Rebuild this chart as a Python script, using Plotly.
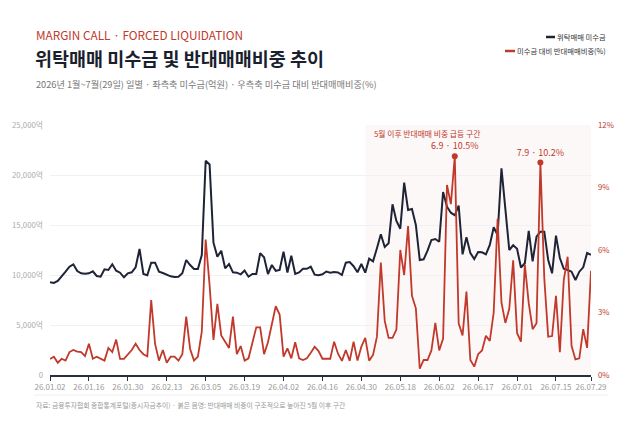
import pandas as pd
import plotly.graph_objects as go

# ---------------- data ----------------
HOLIDAYS = ["2026-01-01", "2026-02-16", "2026-02-17", "2026-02-18", "2026-03-02",
            "2026-05-01", "2026-05-05", "2026-05-25", "2026-06-03", "2026-07-17"]
TRADING_DAYS = pd.bdate_range("2026-01-02", "2026-07-29", freq="C", holidays=HOLIDAYS)
CATEGORIES = [d.strftime("%y.%m.%d") for d in TRADING_DAYS]

# 위탁매매 미수금 (억원)
MARGIN_DEBT = [
    9270, 9200, 9400, 9830, 10330, 10830, 11070, 10400, 10170, 10130,
    10170, 10370, 9900, 9830, 10570, 10500, 11070, 10430, 10230, 9770,
    10170, 10270, 10770, 12600, 10100, 9970, 11230, 11230, 10330, 10200,
    10030, 9870, 9800, 9830, 10170, 11500, 11000, 10600, 10600, 12000,
    21430, 21050, 13230, 11830, 12430, 10670, 11100, 10270, 10230, 10070,
    10450, 9830, 10100, 10100, 12170, 11770, 10100, 11000, 10420, 10500,
    12330, 10250, 11930, 10100, 10250, 10620, 10620, 10830, 10030, 9980,
    10070, 10350, 10230, 10300, 10250, 10000, 11230, 11300, 10880, 10270,
    11100, 10230, 11630, 11370, 12670, 14070, 12800, 13170, 17070, 15400,
    14630, 19230, 16500, 16600, 15000, 11500, 11570, 12430, 13500, 13600,
    13330, 18300, 16830, 16230, 15970, 16930, 12070, 13770, 12200, 11600,
    12300, 12270, 12070, 13000, 14770, 14000, 20670, 16800, 12500, 12970,
    12630, 10750, 11170, 14420, 11370, 13830, 14330, 14330, 11500, 10170,
    13930, 11700, 10620, 10500, 10330, 9500, 10330, 10770, 12200, 12020,
]

# 미수금 대비 반대매매비중 (%)
LIQ_RATIO = [
    0.77, 0.88, 0.59, 0.78, 0.69, 1.10, 1.20, 1.12, 1.10, 0.91,
    1.50, 0.78, 0.88, 0.78, 0.69, 1.30, 1.10, 1.70, 0.77, 0.77,
    0.99, 1.20, 1.50, 1.20, 1.00, 0.90, 3.60, 1.49, 0.69, 1.20,
    0.59, 0.88, 0.88, 0.69, 1.00, 2.80, 1.25, 0.69, 0.88, 2.08,
    6.50, 4.32, 1.68, 3.41, 1.90, 1.60, 1.30, 2.80, 1.00, 1.39,
    0.69, 0.80, 1.60, 2.29, 2.29, 1.00, 1.57, 2.45, 3.30, 2.90,
    0.88, 1.28, 0.80, 1.57, 0.80, 0.72, 0.80, 1.07, 1.36, 1.15,
    0.78, 0.78, 0.78, 1.60, 1.02, 0.68, 1.20, 0.68, 1.60, 0.69,
    1.36, 1.78, 0.69, 0.96, 1.84, 5.40, 2.60, 1.78, 1.78, 2.18,
    6.00, 4.80, 7.15, 3.80, 3.20, 0.30, 0.72, 0.72, 1.18, 2.50,
    1.18, 1.75, 9.12, 8.20, 10.50, 2.48, 1.90, 4.00, 0.72, 0.40,
    1.00, 1.18, 1.88, 1.64, 3.00, 7.50, 3.47, 2.50, 3.18, 5.50,
    2.02, 1.60, 5.30, 3.45, 2.20, 2.49, 10.20, 4.64, 1.84, 1.87,
    3.80, 1.10, 4.56, 5.68, 1.40, 0.75, 0.80, 2.20, 1.30, 5.00,
]

TICK_LABELS = ["26.01.02", "26.01.16", "26.01.30", "26.02.13", "26.03.05",
               "26.03.19", "26.04.02", "26.04.16", "26.04.30", "26.05.18",
               "26.06.02", "26.06.17", "26.07.01", "26.07.15", "26.07.29"]
LEFT_TICKS = [0, 5000, 10000, 15000, 20000, 25000]
LEFT_TICK_TEXT = ["0", "5,000억", "10,000억", "15,000억", "20,000억", "25,000억"]
RIGHT_TICKS = [0, 3, 6, 9, 12]
RIGHT_TICK_TEXT = ["0%", "3%", "6%", "9%", "12%"]
PEAK_DATES = ["26.06.09", "26.07.09"]
SHADE_START = "26.05.04"

# ---------------- styling ----------------
FONT = "Noto Sans CJK KR"
NAVY = "#1e2436"
RED = "#c0392b"

n = len(CATEGORIES)
assert n == len(MARGIN_DEBT) == len(LIQ_RATIO)

peak_vals = [LIQ_RATIO[CATEGORIES.index(d)] for d in PEAK_DATES]
peak_text = [f"{int(d[3:5])}.{int(d[6:8])} · {v}%" for d, v in zip(PEAK_DATES, peak_vals)]
shade_idx = CATEGORIES.index(SHADE_START)

fig = go.Figure()
fig.add_trace(go.Scatter(x=CATEGORIES, y=MARGIN_DEBT, mode="lines", name="위탁매매 미수금",
                         line=dict(color=NAVY, width=2), yaxis="y"))
fig.add_trace(go.Scatter(x=CATEGORIES, y=LIQ_RATIO, mode="lines", name="미수금 대비 반대매매비중(%)",
                         line=dict(color=RED, width=1.8), yaxis="y2"))
fig.add_trace(go.Scatter(x=PEAK_DATES, y=peak_vals, mode="markers+text", text=peak_text,
                         textposition="top center",
                         textfont=dict(family=FONT, size=9, color=RED),
                         marker=dict(color=RED, size=6), yaxis="y2", showlegend=False))

L, R, T, B = 50, 49, 125, 51
W, H = 640, 426
pw, ph = W - L - R, H - T - B


def px(x):
    return (x - L) / pw


def py(y):
    return (H - B - y) / ph


fig.update_layout(
    width=W, height=H,
    margin=dict(l=L, r=R, t=T, b=B, pad=0),
    paper_bgcolor="white", plot_bgcolor="white",
    showlegend=False,
    font=dict(family=FONT, color="#333"),
    xaxis=dict(type="category", range=[0, n - 1], tickmode="array",
               tickvals=TICK_LABELS, ticktext=TICK_LABELS, tickangle=0,
               ticks="outside", ticklen=4, tickwidth=1, tickcolor="#2a2f3d",
               showline=True, linecolor="#2a2f3d", linewidth=1.5,
               showgrid=False, zeroline=False,
               tickfont=dict(family=FONT, size=8, color="#9a9a9a")),
    yaxis=dict(range=[0, 25000], tickmode="array", tickvals=LEFT_TICKS, ticktext=LEFT_TICK_TEXT,
               showgrid=True, gridcolor="#f1f1f3", gridwidth=1, zeroline=False, showline=False,
               ticklabelstandoff=6,
               tickfont=dict(family=FONT, size=7.8, color="#ababab")),
    yaxis2=dict(range=[0, 12], tickmode="array", tickvals=RIGHT_TICKS, ticktext=RIGHT_TICK_TEXT,
                overlaying="y", side="right", showgrid=False, zeroline=False, showline=False,
                ticklabelstandoff=6,
                tickfont=dict(family=FONT, size=7.8, color=RED)),
)

fig.add_shape(type="rect", xref="x", yref="paper", x0=shade_idx, x1=n - 1, y0=0, y1=1,
              fillcolor="rgba(200,60,60,0.035)", line=dict(width=0), layer="below")

fig.add_annotation(x=shade_idx, xref="x", y=py(133), yref="paper", xanchor="left", yanchor="middle",
                   xshift=7, showarrow=False, text="5월 이후 반대매매 비중 급등 구간",
                   font=dict(family=FONT, size=7.8, color=RED))

# header
fig.add_annotation(x=px(34), y=py(35), xref="paper", yref="paper", xanchor="left", yanchor="middle",
                   showarrow=False, text="MARGIN CALL · FORCED LIQUIDATION",
                   font=dict(family=FONT, size=11.8, color=RED))
fig.add_annotation(x=px(33), y=py(58), xref="paper", yref="paper", xanchor="left", yanchor="middle",
                   showarrow=False, text="<b>위탁매매 미수금 및 반대매매비중 추이</b>",
                   font=dict(family=FONT, size=18.5, color="#1a1f2e"))
fig.add_annotation(x=px(34), y=py(84), xref="paper", yref="paper", xanchor="left", yanchor="middle",
                   showarrow=False,
                   text="2026년 1월~7월(29일) 일별 · 좌측축 미수금(억원) · 우측축 미수금 대비 반대매매비중(%)",
                   font=dict(family=FONT, size=9.2, color="#777"))

# legend
legend_items = [("위탁매매 미수금", NAVY, 37), ("미수금 대비 반대매매비중(%)", RED, 51)]
for label, col, yy in legend_items:
    fig.add_annotation(x=px(608), y=py(yy), xref="paper", yref="paper", xanchor="right",
                       yanchor="middle", showarrow=False, text=label,
                       font=dict(family=FONT, size=7.3, color="#333"))
fig.add_shape(type="line", xref="paper", yref="paper", x0=px(546), x1=px(555), y0=py(37), y1=py(37),
              line=dict(color=NAVY, width=2.5))
fig.add_shape(type="line", xref="paper", yref="paper", x0=px(505), x1=px(515), y0=py(51), y1=py(51),
              line=dict(color=RED, width=2.5))

# footer
fig.add_shape(type="line", xref="paper", yref="paper", x0=px(34), x1=px(608), y0=py(395), y1=py(395),
              line=dict(color="#eeeeee", width=1))
fig.add_annotation(x=px(34), y=py(405), xref="paper", yref="paper", xanchor="left", yanchor="middle",
                   showarrow=False,
                   text="자료: 금융투자협회 종합통계포털(증시자금추이) · 붉은 음영: 반대매매 비중이 구조적으로 높아진 5월 이후 구간",
                   font=dict(family=FONT, size=6.8, color="#999"))

fig.write_html("out.html")
